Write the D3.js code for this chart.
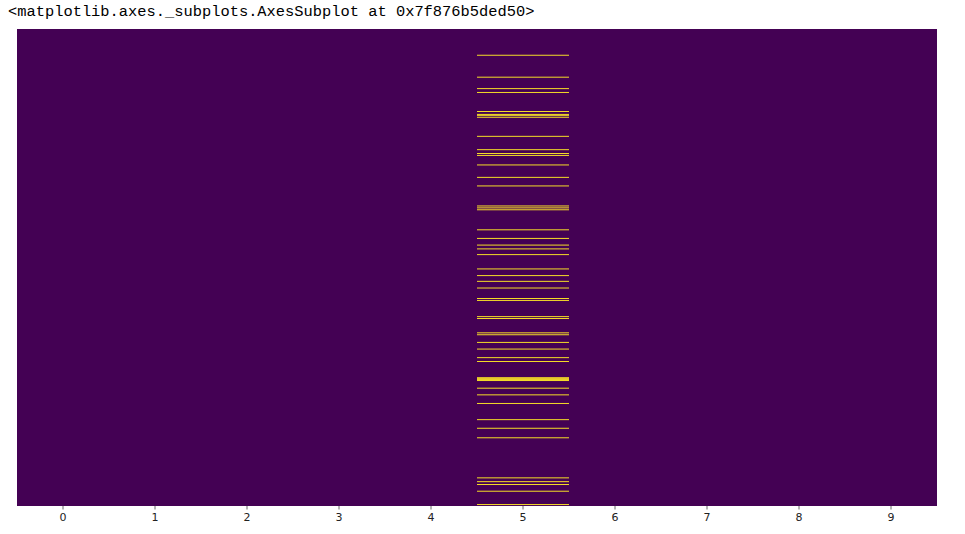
<!DOCTYPE html>
<html><head><meta charset="utf-8">
<script src="https://cdn.jsdelivr.net/npm/d3@7"></script>
<style>body{margin:0;background:#fff;} svg{display:block;}</style>
</head><body>
<script>
const columns = [0,1,2,3,4,5,6,7,8,9];
const nRows = 500;
const missingColumn = 5;
const missingRows = [27,50,62,66,86,89,90,92,112,126,130,132,142,155,164,185,187,189,210,219,226,230,236,251,258,264,271,282,284,301,303,318,320,328,335,344,348,365,366,367,368,376,383,392,409,418,428,470,474,477,484,498];
const title = "<matplotlib.axes._subplots.AxesSubplot at 0x7f876b5ded50>";

const W = 965, H = 534;
const m = {left:17, right:28, top:29, bottom:28};
const svg = d3.select("body").append("svg").attr("width", W).attr("height", H);

svg.append("text").attr("x", 8).attr("y", 16)
  .attr("font-family", "Liberation Mono, monospace").attr("font-size", 15.4)
  .attr("fill", "#000").text(title);

const x = d3.scaleBand().domain(columns).range([m.left, W - m.right]);
const y = d3.scaleLinear().domain([0, nRows]).range([m.top, H - m.bottom]);
const color = d3.scaleSequential(d3.interpolateViridis).domain([0, 1]);

svg.append("g").selectAll("rect").data(columns).join("rect")
  .attr("x", d => x(d)).attr("y", y(0))
  .attr("width", x.bandwidth()).attr("height", y(nRows) - y(0))
  .attr("fill", color(0)).attr("shape-rendering", "crispEdges");

svg.append("g").selectAll("rect").data(missingRows).join("rect")
  .attr("x", x(missingColumn)).attr("y", d => y(d))
  .attr("width", x.bandwidth()).attr("height", y(1) - y(0))
  .attr("fill", color(1));

const ax = svg.append("g").attr("transform", `translate(0,${H - m.bottom})`)
  .call(d3.axisBottom(x).tickSize(3.5).tickPadding(4));
ax.select(".domain").remove();
ax.selectAll("line").attr("stroke", "#444").attr("stroke-width", 0.8);
ax.selectAll("text").attr("font-family", "DejaVu Sans, sans-serif").attr("font-size", 11).attr("fill", "#222");
</script>
</body></html>
